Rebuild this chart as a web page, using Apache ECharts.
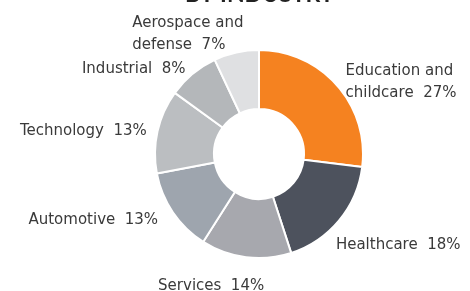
<!DOCTYPE html>
<html>
<head>
<meta charset="utf-8">
<script src="https://cdn.jsdelivr.net/npm/echarts@6/dist/echarts.min.js"></script>
<style>
  html, body { margin: 0; padding: 0; background: #fff; }
  #main { width: 470px; height: 291px; }
</style>
</head>
<body>
<div id="main"></div>
<script>
var myChart = echarts.init(document.getElementById('main'));

var industries = ['Education and\nchildcare', 'Healthcare', 'Services', 'Automotive', 'Technology', 'Industrial', 'Aerospace and\ndefense'];
var shares = [27, 18, 14, 13, 13, 8, 7];
var colors = ['#F58220', '#4D525D', '#A7A8AE', '#9EA5AE', '#BBBEC1', '#B4B7BA', '#DFE0E2'];
// small nudges of each label from where the pie puts it
var labelDx = [-7, -19, 25, -3, 3, 14, -96];
var labelDy = [6, 16, 15, 0, 3, -5, -5];

var pieData = industries.map(function (name, i) {
  return { name: name, value: shares[i], itemStyle: { color: colors[i] } };
});

var option = {
  animation: false,
  title: {
    text: 'BY INDUSTRY',
    left: 180,
    top: -22,
    textStyle: { fontFamily: 'Lato', fontSize: 23, fontWeight: 'bold', color: '#222' }
  },
  series: [
    {
      type: 'pie',
      center: [259, 154],
      radius: [45, 104],
      clockwise: true,
      startAngle: 90,
      itemStyle: { borderColor: '#fff', borderWidth: 2 },
      label: {
        show: true,
        position: 'outside',
        formatter: '{b}  {c}%',
        fontFamily: 'DejaVu Sans',
        fontSize: 15,
        color: '#3a3a3a',
        lineHeight: 22,
        overflow: 'none'
      },
      labelLine: { show: false, length: 14, length2: 0 },
      labelLayout: function (p) {
        var out = { dx: labelDx[p.dataIndex], dy: labelDy[p.dataIndex] };
        if (p.dataIndex === 6) out.align = 'left';
        return out;
      },
      data: pieData
    }
  ]
};
myChart.setOption(option);
</script>
</body>
</html>
